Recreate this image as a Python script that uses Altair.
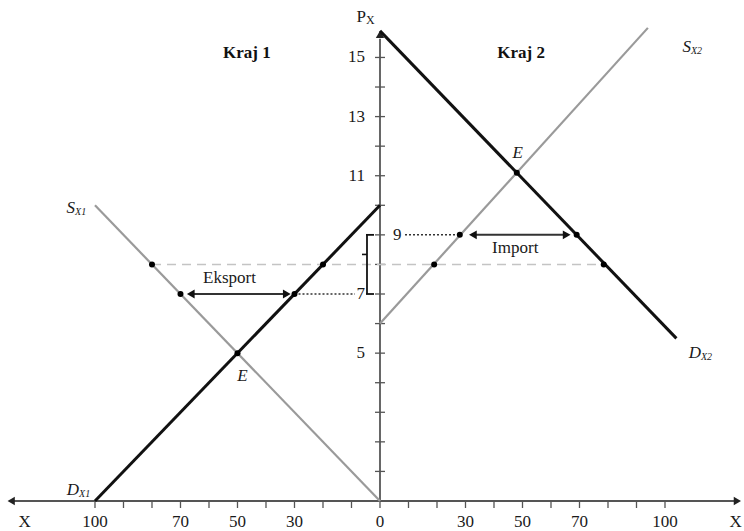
import altair as alt
import pandas as pd

# ---------------- data ----------------
# Kraj 1 (left half, quantity measured leftwards from 0)
s1_q = [100, 0]
s1_p = [10, 0]
d1_q = [100, 0]
d1_p = [0, 10]
# Kraj 2 (right half)
s2_q = [0, 94]
s2_p = [6, 16]
d2_q = [0, 104]
d2_p = [15.9, 5.5]

eq1 = (50, 5)
eq2 = (48, 11.1)

p_world = 8
p_low = 7
p_high = 9

dots1_q = [80, 70, 30, 20]
dots1_p = [8, 7, 7, 8]
dots2_q = [19, 28, 69, 78.5]
dots2_p = [8, 9, 9, 8]

x_ticks = [10, 20, 30, 40, 50, 60, 70, 80, 90, 100]
x_labels = [30, 50, 70, 100]
y_ticks = list(range(1, 16))
y_labels_left = [5, 7, 11, 13, 15]
y_labels_right = [9]

x_axis_end = 127.0
x_axis_start = -131.0
y_axis_end = 15.93

# ---------------- scales ----------------
xs = alt.Scale(domain=[-133.33, 127.72], nice=False, zero=False)
ys = alt.Scale(domain=[-1.015, 16.943], nice=False, zero=False)
FONT = "Times New Roman, Liberation Serif, serif"
TXT = "#1a1a1a"


def X(f="x"):
    return alt.X(f, type="quantitative", scale=xs, axis=None)


def Y(f="y"):
    return alt.Y(f, type="quantitative", scale=ys, axis=None)


def X2(f="x2"):
    return alt.X2(f)


def Y2(f="y2"):
    return alt.Y2(f)


layers = []

# ---- axes ----
ax = pd.DataFrame({"x": [x_axis_start + 2], "x2": [x_axis_end - 2], "y": [0]})
layers.append(alt.Chart(ax).mark_rule(color="#555", strokeWidth=2.2).encode(x=X(), x2=X2(), y=Y()))
ay = pd.DataFrame({"x": [0], "y": [0], "y2": [y_axis_end - 0.3]})
layers.append(alt.Chart(ay).mark_rule(color="#666", strokeWidth=2).encode(x=X(), y=Y(), y2=Y2()))

heads = pd.DataFrame({"x": [x_axis_start + 1.6, x_axis_end - 1.6, 0],
                      "y": [0, 0, y_axis_end - 0.15],
                      "shape": ["triangle-left", "triangle-right", "triangle-up"]})
layers.append(alt.Chart(heads).mark_point(filled=True, color="#222", size=70, opacity=1).encode(
    x=X(), y=Y(), shape=alt.Shape("shape:N", scale=None, legend=None)))

# x ticks (below axis)
xt = pd.DataFrame({"x": [-v for v in x_ticks] + [0] + x_ticks})
xt["y"] = 0
layers.append(alt.Chart(xt).mark_rule(color="#555", strokeWidth=1.3, y2Offset=7).encode(
    x=X(), y=Y(), y2=Y2("y")))
# y ticks (crossing axis)
yt = pd.DataFrame({"y": y_ticks})
yt["x"] = 0
layers.append(alt.Chart(yt).mark_rule(color="#555", strokeWidth=1.3, xOffset=-5, x2Offset=5).encode(
    x=X(), x2=X2("x"), y=Y()))

# x tick labels
xl_vals = [-v for v in x_labels] + [0] + x_labels
xl = pd.DataFrame({"x": xl_vals, "t": [str(abs(v)) for v in xl_vals]})
xl["y"] = 0
layers.append(alt.Chart(xl).mark_text(font=FONT, fontSize=17, dy=21, color=TXT).encode(
    x=X(), y=Y(), text="t:N"))
xn = pd.DataFrame({"x": [x_axis_start + 6.3, x_axis_end - 2.2], "t": ["X", "X"]})
xn["y"] = 0
layers.append(alt.Chart(xn).mark_text(font=FONT, fontSize=17, dy=21, color=TXT).encode(
    x=X(), y=Y(), text="t:N"))

# y tick labels
yl = pd.DataFrame({"y": y_labels_left, "t": [str(v) for v in y_labels_left]})
yl["x"] = 0
layers.append(alt.Chart(yl).mark_text(font=FONT, fontSize=17, dx=-15, align="right", color=TXT).encode(
    x=X(), y=Y(), text="t:N"))
yr = pd.DataFrame({"y": y_labels_right, "t": [str(v) for v in y_labels_right]})
yr["x"] = 0
layers.append(alt.Chart(yr).mark_text(font=FONT, fontSize=17, dx=13, align="left", color=TXT).encode(
    x=X(), y=Y(), text="t:N"))

# P_X axis title
layers.append(alt.Chart(pd.DataFrame({"x": [0], "y": [y_axis_end], "t": ["P"]})).mark_text(
    font=FONT, fontSize=17, align="right", dx=-14, dy=-13, color=TXT).encode(x=X(), y=Y(), text="t:N"))
layers.append(alt.Chart(pd.DataFrame({"x": [0], "y": [y_axis_end], "t": ["X"]})).mark_text(
    font=FONT, fontSize=12, align="left", dx=-14, dy=-10, color=TXT).encode(x=X(), y=Y(), text="t:N"))

# ---- world price dashed line ----
dash = pd.DataFrame({"x": [-dots1_q[0]], "x2": [dots2_q[3]], "y": [p_world]})
layers.append(alt.Chart(dash).mark_rule(color="#c4c4c4", strokeWidth=1.6, strokeDash=[9, 6]).encode(
    x=X(), x2=X2(), y=Y()))

# dotted guide lines
dot7 = pd.DataFrame({"x": [-dots1_q[2]], "x2": [0], "y": [p_low]})
layers.append(alt.Chart(dot7).mark_rule(color="#333", strokeWidth=1.5, strokeDash=[2, 2], x2Offset=-25).encode(
    x=X(), x2=X2(), y=Y()))
dot9 = pd.DataFrame({"x": [0], "x2": [dots2_q[1]], "y": [p_high]})
layers.append(alt.Chart(dot9).mark_rule(color="#333", strokeWidth=1.5, strokeDash=[2, 2], xOffset=25).encode(
    x=X(), x2=X2(), y=Y()))

# ---- curves ----
gray = pd.DataFrame({"c": ["s1"] * 2 + ["s2"] * 2,
                     "x": [-q for q in s1_q] + s2_q,
                     "y": s1_p + s2_p})
layers.append(alt.Chart(gray).mark_line(color="#9a9a9a", strokeWidth=2.2).encode(
    x=X(), y=Y(), detail="c:N"))
black = pd.DataFrame({"c": ["d1"] * 2 + ["d2"] * 2,
                      "x": [-q for q in d1_q] + d2_q,
                      "y": d1_p + d2_p})
layers.append(alt.Chart(black).mark_line(color="#111", strokeWidth=3).encode(
    x=X(), y=Y(), detail="c:N"))

# ---- bracket (7 .. 9) ----
br = pd.DataFrame({"x": [0], "y": [p_low], "y2": [p_high]})
layers.append(alt.Chart(br).mark_rule(color="#111", strokeWidth=1.8, xOffset=-13).encode(
    x=X(), y=Y(), y2=Y2()))
bra = pd.DataFrame({"x": [0, 0], "y": [p_low, p_high]})
layers.append(alt.Chart(bra).mark_rule(color="#111", strokeWidth=1.8, xOffset=-14, x2Offset=-6).encode(
    x=X(), x2=X2("x"), y=Y()))
brn = pd.DataFrame({"x": [0], "y": [(p_low + p_high) / 2]})
layers.append(alt.Chart(brn).mark_rule(color="#111", strokeWidth=1.6, xOffset=-18, x2Offset=-13, yOffset=-10).encode(
    x=X(), x2=X2("x"), y=Y()))

# ---- trade arrows ----
arr = pd.DataFrame({"x": [-dots1_q[1] + 4.5, dots2_q[1] + 5.5],
                    "x2": [-dots1_q[2] - 3.5, dots2_q[2] - 4.5],
                    "y": [p_low, p_high]})
layers.append(alt.Chart(arr).mark_rule(color="#333", strokeWidth=2).encode(x=X(), x2=X2(), y=Y()))
ah = pd.DataFrame({"x": [-dots1_q[1] + 3.6, -dots1_q[2] - 2.7, dots2_q[1] + 4.6, dots2_q[2] - 3.5],
                   "y": [p_low, p_low, p_high, p_high],
                   "shape": ["triangle-left", "triangle-right", "triangle-left", "triangle-right"]})
layers.append(alt.Chart(ah).mark_point(filled=True, color="#111", size=80, opacity=1).encode(
    x=X(), y=Y(), shape=alt.Shape("shape:N", scale=None, legend=None)))

# ---- dots ----
dots = pd.DataFrame({"x": [-q for q in dots1_q] + dots2_q + [-eq1[0], eq2[0]],
                     "y": dots1_p + dots2_p + [eq1[1], eq2[1]]})
layers.append(alt.Chart(dots).mark_circle(color="#000", size=36, opacity=1).encode(x=X(), y=Y()))

# ---- texts ----
tr = pd.DataFrame({"x": [-(dots1_q[1] + dots1_q[2]) / 2, (dots2_q[1] + dots2_q[2]) / 2],
                   "y": [p_low, p_high], "t": ["Eksport", "Import"]})
layers.append(alt.Chart(tr.iloc[[0]]).mark_text(font=FONT, fontSize=17, dy=-16, dx=-8, color=TXT).encode(
    x=X(), y=Y(), text="t:N"))
layers.append(alt.Chart(tr.iloc[[1]]).mark_text(font=FONT, fontSize=17, dy=13, dx=-3, color=TXT).encode(
    x=X(), y=Y(), text="t:N"))

ee = pd.DataFrame({"x": [-eq1[0]], "y": [eq1[1]], "t": ["E"]})
layers.append(alt.Chart(ee).mark_text(font=FONT, fontSize=17, fontStyle="italic", dx=5, dy=23, color=TXT).encode(
    x=X(), y=Y(), text="t:N"))
ee2 = pd.DataFrame({"x": [eq2[0]], "y": [eq2[1]], "t": ["E"]})
layers.append(alt.Chart(ee2).mark_text(font=FONT, fontSize=17, fontStyle="italic", dx=1, dy=-20, color=TXT).encode(
    x=X(), y=Y(), text="t:N"))

kraj = pd.DataFrame({"x": [-eq1[0] + 3.3, eq2[0] + 1.5], "y": [15.15, 15.15], "t": ["Kraj 1", "Kraj 2"]})
layers.append(alt.Chart(kraj).mark_text(font=FONT, fontSize=17, fontWeight="bold", color="#111").encode(
    x=X(), y=Y(), text="t:N"))

# curve labels: main letter + subscript
lab = pd.DataFrame({
    "x": [-107.0, 109.1, -105.6, 112.6],
    "y": [9.9, 15.35, 0.37, 5.0],
    "m": ["S", "S", "D", "D"],
    "s": ["X1", "X2", "X1", "X2"],
})
layers.append(alt.Chart(lab).mark_text(font=FONT, fontSize=17, fontStyle="italic", align="right", color=TXT).encode(
    x=X(), y=Y(), text="m:N"))
layers.append(alt.Chart(lab).mark_text(font=FONT, fontSize=10, fontStyle="italic", align="left", dy=4, color=TXT).encode(
    x=X(), y=Y(), text="s:N"))

chart = alt.layer(*layers).properties(
    width=744, height=531, padding=0,
    autosize=alt.AutoSizeParams(type="none"), background="white"
).configure_view(stroke=None)

chart.save("out.html", embed_options={"renderer": "svg", "actions": False})
